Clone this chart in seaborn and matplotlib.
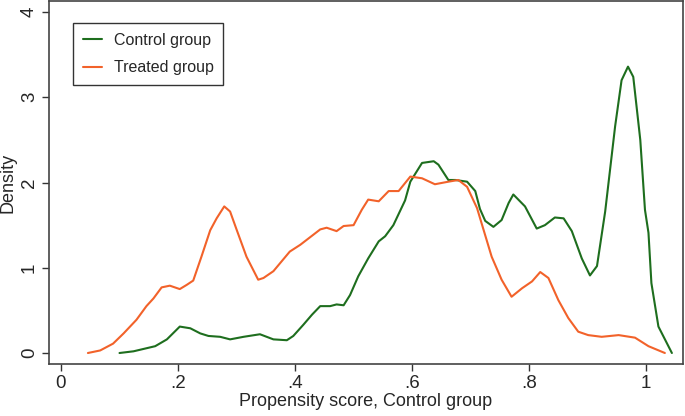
import matplotlib
matplotlib.use("Agg")
import matplotlib.pyplot as plt
import seaborn as sns
import pandas as pd

control_x = [0.100, 0.124, 0.161, 0.181, 0.203, 0.221, 0.238, 0.252, 0.272, 0.289, 0.312, 0.340,
             0.363, 0.386, 0.397, 0.414, 0.429, 0.443, 0.460, 0.471, 0.483, 0.494, 0.508, 0.525,
             0.543, 0.554, 0.568, 0.588, 0.597, 0.617, 0.637, 0.645, 0.662, 0.674, 0.694, 0.708,
             0.716, 0.725, 0.739, 0.753, 0.765, 0.773, 0.793, 0.813, 0.827, 0.844, 0.859, 0.873,
             0.890, 0.904, 0.916, 0.930, 0.947, 0.958, 0.969, 0.978, 0.990, 0.998, 1.004, 1.009,
             1.021, 1.044]
control_y = [0.00, 0.02, 0.08, 0.16, 0.31, 0.29, 0.23, 0.20, 0.19, 0.16, 0.19, 0.22,
             0.16, 0.15, 0.20, 0.33, 0.45, 0.55, 0.55, 0.57, 0.56, 0.68, 0.90, 1.11,
             1.31, 1.37, 1.50, 1.79, 2.01, 2.23, 2.25, 2.21, 2.03, 2.03, 2.01, 1.90,
             1.69, 1.55, 1.48, 1.56, 1.76, 1.86, 1.72, 1.46, 1.50, 1.59, 1.58, 1.43,
             1.11, 0.91, 1.02, 1.66, 2.66, 3.20, 3.36, 3.24, 2.50, 1.68, 1.41, 0.82,
             0.31, 0.00]

treated_x = [0.046, 0.067, 0.089, 0.107, 0.129, 0.146, 0.158, 0.172, 0.186, 0.203, 0.215, 0.226,
             0.240, 0.255, 0.266, 0.279, 0.289, 0.300, 0.317, 0.337, 0.346, 0.363, 0.391, 0.409,
             0.426, 0.443, 0.454, 0.471, 0.483, 0.500, 0.514, 0.525, 0.543, 0.560, 0.577, 0.597,
             0.617, 0.639, 0.662, 0.679, 0.694, 0.711, 0.736, 0.753, 0.770, 0.788, 0.805, 0.819,
             0.833, 0.850, 0.867, 0.884, 0.901, 0.924, 0.953, 0.981, 1.004, 1.032]
treated_y = [0.00, 0.03, 0.11, 0.23, 0.39, 0.55, 0.64, 0.77, 0.79, 0.75, 0.80, 0.85,
             1.13, 1.44, 1.58, 1.72, 1.66, 1.45, 1.13, 0.86, 0.88, 0.96, 1.19, 1.27,
             1.36, 1.45, 1.47, 1.43, 1.49, 1.50, 1.68, 1.80, 1.78, 1.90, 1.90, 2.07,
             2.05, 1.98, 2.01, 2.03, 1.95, 1.70, 1.13, 0.86, 0.66, 0.76, 0.84, 0.95,
             0.88, 0.62, 0.41, 0.25, 0.21, 0.19, 0.21, 0.18, 0.08, 0.00]

x_ticks = [0, 0.2, 0.4, 0.6, 0.8, 1.0]
x_tick_labels = ["0", ".2", ".4", ".6", ".8", "1"]
y_ticks = [0, 1, 2, 3, 4]
y_tick_labels = ["0", "1", "2", "3", "4"]

sns.set_style("ticks")
plt.rcParams['font.family'] = ['Liberation Sans', 'DejaVu Sans']

df = pd.concat([
    pd.DataFrame({"x": control_x, "y": control_y, "group": "Control group"}),
    pd.DataFrame({"x": treated_x, "y": treated_y, "group": "Treated group"}),
])

fig = plt.figure(figsize=(6.85, 4.16), dpi=100)
ax = fig.add_axes([49/685, 1 - 364/416, (683-49)/685, (364-1)/416])
sns.lineplot(data=df, x="x", y="y", hue="group", estimator=None, sort=False,
             palette={"Control group": "#1e6e1e", "Treated group": "#f2622a"},
             linewidth=1.5, ax=ax)

ax.set_xlim(-0.0205, 1.063)
ax.set_ylim(-0.129, 4.13)
ax.set_xticks(x_ticks)
ax.set_xticklabels(x_tick_labels, fontsize=13.5)
ax.set_yticks(y_ticks)
ax.set_yticklabels(y_tick_labels, fontsize=13.5, rotation=90, va="center")
ax.tick_params(direction="out", length=5, width=1, color="#333333", pad=3)
ax.set_xlabel("Propensity score, Control group", fontsize=13, labelpad=1)
ax.set_ylabel("Density", fontsize=13, labelpad=3)
for s in ax.spines.values():
    s.set_visible(True)
    s.set_color("#444444")
    s.set_linewidth(1.2)

leg = ax.legend(loc="upper left", bbox_to_anchor=(24/634, 1 - 22/363), borderaxespad=0,
                fontsize=11.5, frameon=True, fancybox=False, edgecolor="#333333", framealpha=1,
                handlelength=1.2, handletextpad=0.75, borderpad=0.6, labelspacing=0.8)
leg.get_frame().set_linewidth(1.0)

fig.savefig("out.png", dpi=100)
